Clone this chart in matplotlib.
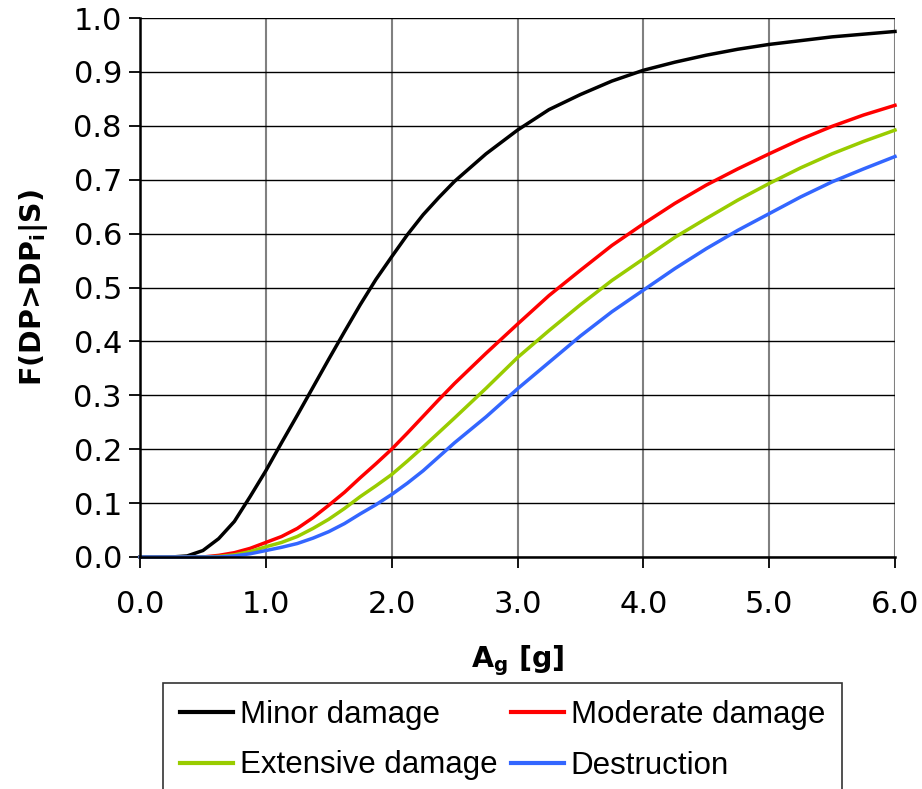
import matplotlib.pyplot as plt

# peak ground acceleration [g]
ag = [0.0, 0.125, 0.25, 0.375, 0.5, 0.625, 0.75, 0.875, 1.0, 1.125, 1.25, 1.375,
      1.5, 1.625, 1.75, 1.875, 2.0, 2.125, 2.25, 2.375, 2.5, 2.75, 3.0,
      3.25, 3.5, 3.75, 4.0, 4.25, 4.5, 4.75, 5.0, 5.25, 5.5, 5.75, 6.0]

# exceedance probabilities
minor = [0.0, 0.0, 0.0, 0.002, 0.012, 0.034, 0.066, 0.112, 0.16, 0.212, 0.263, 0.315,
         0.367, 0.418, 0.468, 0.515, 0.557, 0.598, 0.635, 0.667, 0.697,
         0.748, 0.792, 0.83, 0.858, 0.883, 0.903, 0.918, 0.931, 0.942, 0.951,
         0.958, 0.965, 0.970, 0.975]
moderate = [0.0, 0.0, 0.0, 0.0, 0.0, 0.003, 0.008, 0.016, 0.027, 0.038, 0.053, 0.073,
            0.096, 0.12, 0.147, 0.173, 0.2, 0.23, 0.261, 0.292, 0.322,
            0.378, 0.432, 0.485, 0.532, 0.578, 0.618, 0.656, 0.69, 0.72, 0.748,
            0.775, 0.799, 0.82, 0.838]
extensive = [0.0, 0.0, 0.0, 0.0, 0.0, 0.001, 0.004, 0.01, 0.019, 0.027, 0.038, 0.053,
             0.07, 0.09, 0.112, 0.132, 0.153, 0.178, 0.204, 0.231, 0.258,
             0.313, 0.37, 0.42, 0.468, 0.513, 0.553, 0.593, 0.628, 0.662, 0.693,
             0.722, 0.748, 0.771, 0.792]
destruction = [0.0, 0.0, 0.0, 0.0, 0.0, 0.0, 0.002, 0.006, 0.012, 0.018, 0.025, 0.035,
               0.047, 0.062, 0.08, 0.097, 0.116, 0.137, 0.16, 0.186, 0.212,
               0.26, 0.312, 0.361, 0.41, 0.455, 0.495, 0.535, 0.572, 0.606, 0.637,
               0.668, 0.696, 0.72, 0.743]

labels = ['Minor damage', 'Moderate damage', 'Extensive damage', 'Destruction']
colors = ['#000000', '#FF0000', '#99CC00', '#3366FF']

fig = plt.figure(figsize=(9.22, 7.89), dpi=100)
ax = fig.add_axes([140 / 922, 1 - 557 / 789, (895 - 140) / 922, (557 - 18) / 789])

lines = []
for ys, lab, col in zip([minor, moderate, extensive, destruction], labels, colors):
    ln, = ax.plot(ag, ys, color=col, linewidth=2.5, label=lab, clip_on=False,
                  solid_joinstyle='round')
    lines.append(ln)

ax.set_xlim(0, 6)
ax.set_ylim(0, 1)
ax.set_xticks([0, 1, 2, 3, 4, 5, 6])
ax.set_xticklabels(['0.0', '1.0', '2.0', '3.0', '4.0', '5.0', '6.0'])
ax.set_yticks([i / 10 for i in range(11)])
ax.set_yticklabels(['%.1f' % (i / 10) for i in range(11)])

# black horizontal, grey vertical grid like the Excel original
ax.yaxis.grid(True, color='black', linewidth=1.0)
ax.xaxis.grid(True, color='#808080', linewidth=1.5)
ax.set_axisbelow(True)

for s in ['top', 'right']:
    ax.spines[s].set_visible(False)
for s in ['left', 'bottom']:
    ax.spines[s].set_linewidth(1.8)
    ax.spines[s].set_color('black')

ax.tick_params(axis='both', direction='out', length=8, width=1.3, labelsize=22)
ax.tick_params(axis='x', pad=16)
ax.tick_params(axis='y', pad=5)

ax.set_ylabel('F(DP>DP$_\\mathregular{i}$|S)', fontsize=20.5, fontweight='bold',
              labelpad=17)
ax.set_xlabel('A$_\\mathregular{g}$ [g]', fontsize=20.5, fontweight='bold',
              labelpad=17)

# row-wise order: minor, moderate / extensive, destruction
order = [0, 2, 1, 3]
leg = fig.legend([lines[i] for i in order], [labels[i] for i in order],
                 loc='upper left', bbox_to_anchor=(163 / 922, 1 - 683 / 789),
                 ncol=2, frameon=True, fancybox=False, borderaxespad=0,
                 prop={'family': 'Liberation Sans', 'size': 22.5},
                 handlelength=1.7, handletextpad=0.2, columnspacing=0.45,
                 labelspacing=0.65, borderpad=0.55)
leg.get_frame().set_edgecolor('black')
leg.get_frame().set_linewidth(1.2)
for h in leg.get_lines():
    h.set_linewidth(3)

fig.savefig('out.png', dpi=100)
